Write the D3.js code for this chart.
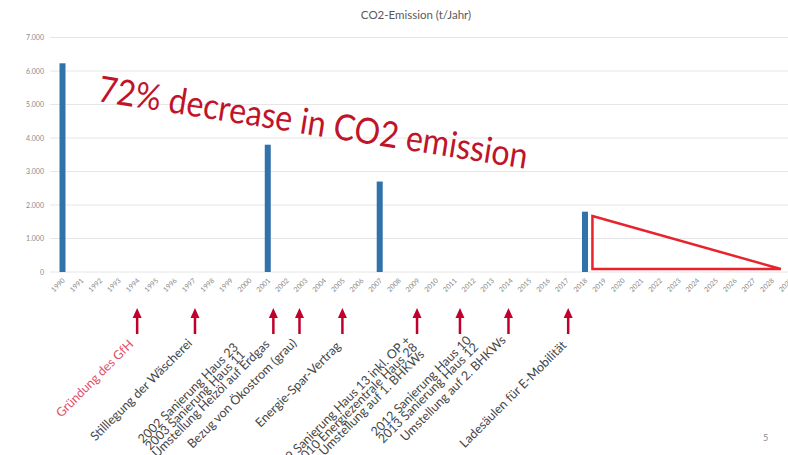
<!DOCTYPE html>
<html>
<head>
<meta charset="utf-8">
<script src="https://cdn.jsdelivr.net/npm/d3@7"></script>
<style>
  body { margin: 0; background: #fff; }
</style>
</head>
<body>
<div id="chart"></div>
<script>
// Daten aus der Folie
const jahre = [1990, 1991, 1992, 1993, 1994, 1995, 1996, 1997, 1998, 1999,
               2000, 2001, 2002, 2003, 2004, 2005, 2006, 2007, 2008, 2009,
               2010, 2011, 2012, 2013, 2014, 2015, 2016, 2017, 2018, 2019,
               2020, 2021, 2022, 2023, 2024, 2025, 2026, 2027, 2028, 2029];
const balkenJahre = [1990, 2001, 2007, 2018];
const emissionen = [6230, 3800, 2700, 1800];
const yTicks = [0, 1000, 2000, 3000, 4000, 5000, 6000, 7000];
// Ziel-Dreieck (Jahr, t/Jahr)
const zielDreieck = [[2018.4, 1670], [2028.5, 90], [2018.4, 90]];
// Massnahmen (Pfeile unter der Achse)
const massnahmenJahre = [1994, 1997.1, 2001.3, 2002.7, 2005, 2009, 2011.3, 2013.9, 2017.1];
const massnahmenTexte = [
  ["Gründung des GfH"],
  ["Stilllegung der Wäscherei"],
  ["2002 Sanierung Haus 23", "2003 Sanierung Haus 11", "Umstellung Heizöl auf Erdgas"],
  ["Bezug von Ökostrom (grau)"],
  ["Energie-Spar-Vertrag"],
  ["2009 Sanierung Haus 13 inkl. OP +", "2010 Energiezentrale Haus 28", "Umstellung auf 1. BHKWs"],
  ["2012 Sanierung Haus 10", "2013 Sanierung Haus 12"],
  ["Umstellung auf 2. BHKWs"],
  ["Ladesäulen für E-Mobilität"]
];
const titel = "CO2-Emission (t/Jahr)";
const botschaft = "72% decrease in CO2 emission";

const width = 788;
const height = 455;

const svg = d3.select("#chart")
    .append("svg")
    .attr("width", width)
    .attr("height", height)
    .style("font-family", "Lato, 'Open Sans', sans-serif");

const x = d3.scaleLinear()
    .domain([1990, 2030])
    .range([62.5, 62.5 + 40 * 18.66]);

const y = d3.scaleLinear()
    .domain([0, 7000])
    .range([272, 37.5]);

const de = d3.formatLocale({decimal: ",", thousands: ".", grouping: [3], currency: ["", "€"]});

// Titel
svg.append("text")
    .attr("x", 416)
    .attr("y", 19)
    .attr("text-anchor", "middle")
    .style("font-size", "11.5px")
    .style("fill", "#595959")
    .text(titel);

// Gitterlinien
svg.append("g")
    .selectAll("line")
    .data(yTicks)
    .join("line")
    .attr("x1", 50)
    .attr("x2", width)
    .attr("y1", d => y(d))
    .attr("y2", d => y(d))
    .style("stroke", "#e6e6e6")
    .style("stroke-width", 1);

// y-Achse
svg.append("g")
    .selectAll("text")
    .data(yTicks)
    .join("text")
    .attr("x", 44)
    .attr("y", d => y(d) + 2.5)
    .attr("text-anchor", "end")
    .style("font-size", "7px")
    .style("fill", "#8a8a8a")
    .text(d => de.format(",")(d));

// x-Achse (gedreht)
svg.append("g")
    .selectAll("text")
    .data(jahre)
    .join("text")
    .attr("text-anchor", "end")
    .attr("transform", d => "translate(" + (x(d) + 3) + ",281) rotate(-45)")
    .style("font-size", "7px")
    .style("fill", "#8a8a8a")
    .text(d => d);

// Balken
svg.append("g")
    .selectAll("rect")
    .data(balkenJahre)
    .join("rect")
    .attr("x", d => x(d) - 3)
    .attr("width", 6)
    .attr("y", (d, i) => y(emissionen[i]))
    .attr("height", (d, i) => y(0) - y(emissionen[i]))
    .style("fill", "#3272aa");

// Dreieck
svg.append("path")
    .datum(zielDreieck)
    .attr("d", d3.line().x(d => x(d[0])).y(d => y(d[1])).curve(d3.curveLinearClosed))
    .style("fill", "none")
    .style("stroke", "#e8232e")
    .style("stroke-width", 2.5)
    .style("stroke-linejoin", "miter");

// Botschaft
svg.append("text")
    .attr("transform", "translate(97,101) rotate(9)")
    .attr("textLength", 434)
    .attr("lengthAdjust", "spacingAndGlyphs")
    .style("font-size", "36px")
    .style("fill", "#c0142a")
    .text(botschaft);

// Pfeile
const pfeile = svg.append("g")
    .selectAll("g")
    .data(massnahmenJahre)
    .join("g")
    .attr("transform", d => "translate(" + x(d) + ",0)");

pfeile.append("line")
    .attr("x1", 0).attr("x2", 0)
    .attr("y1", 316).attr("y2", 334)
    .style("stroke", "#c0002a")
    .style("stroke-width", 2.5);

pfeile.append("path")
    .attr("d", "M-4.5,318 L0,308 L4.5,318 Z")
    .style("fill", "#c0002a");

// Beschriftungen der Massnahmen
// Textfelder: versatz in x / y vom Pfeil, linksbuendig oder rechtsbuendig
const lh = 10;
const versatzX = [-3, -2, -3, -2, -1, -6, 12, -2, -1];
const versatzY = [345, 344, 345, 344, 347, 341, 341, 341, 346];
const linksbuendig = [false, false, true, false, false, false, false, false, false];

const beschr = svg.append("g")
    .selectAll("g")
    .data(massnahmenJahre)
    .join("g")
    .attr("transform", (d, i) => "translate(" + (x(d) + versatzX[i]) + "," + versatzY[i] + ") rotate(-45)");

beschr.each(function (d, i) {
    const g = d3.select(this);
    const zeilen = massnahmenTexte[i];
    const texte = g.selectAll("text")
        .data(zeilen)
        .join("text")
        .style("font-size", "12.5px")
        .style("fill", i === 0 ? "#e05060" : "#454545")
        .text(t => t);
    if (linksbuendig[i]) {
        const laengen = [];
        texte.each(function () { laengen.push(this.getComputedTextLength()); });
        const maxL = d3.max(laengen);
        const iLang = laengen.indexOf(maxL);
        texte.attr("text-anchor", "start")
            .attr("x", -maxL)
            .attr("y", (t, j) => (j - iLang) * lh);
    } else {
        texte.attr("text-anchor", "end")
            .attr("x", 0)
            .attr("y", (t, j) => j * lh);
    }
});

// Seitenzahl
svg.append("text")
    .attr("x", 763)
    .attr("y", 441)
    .style("font-size", "9px")
    .style("fill", "#8a8a8a")
    .text("5");
</script>
</body>
</html>
